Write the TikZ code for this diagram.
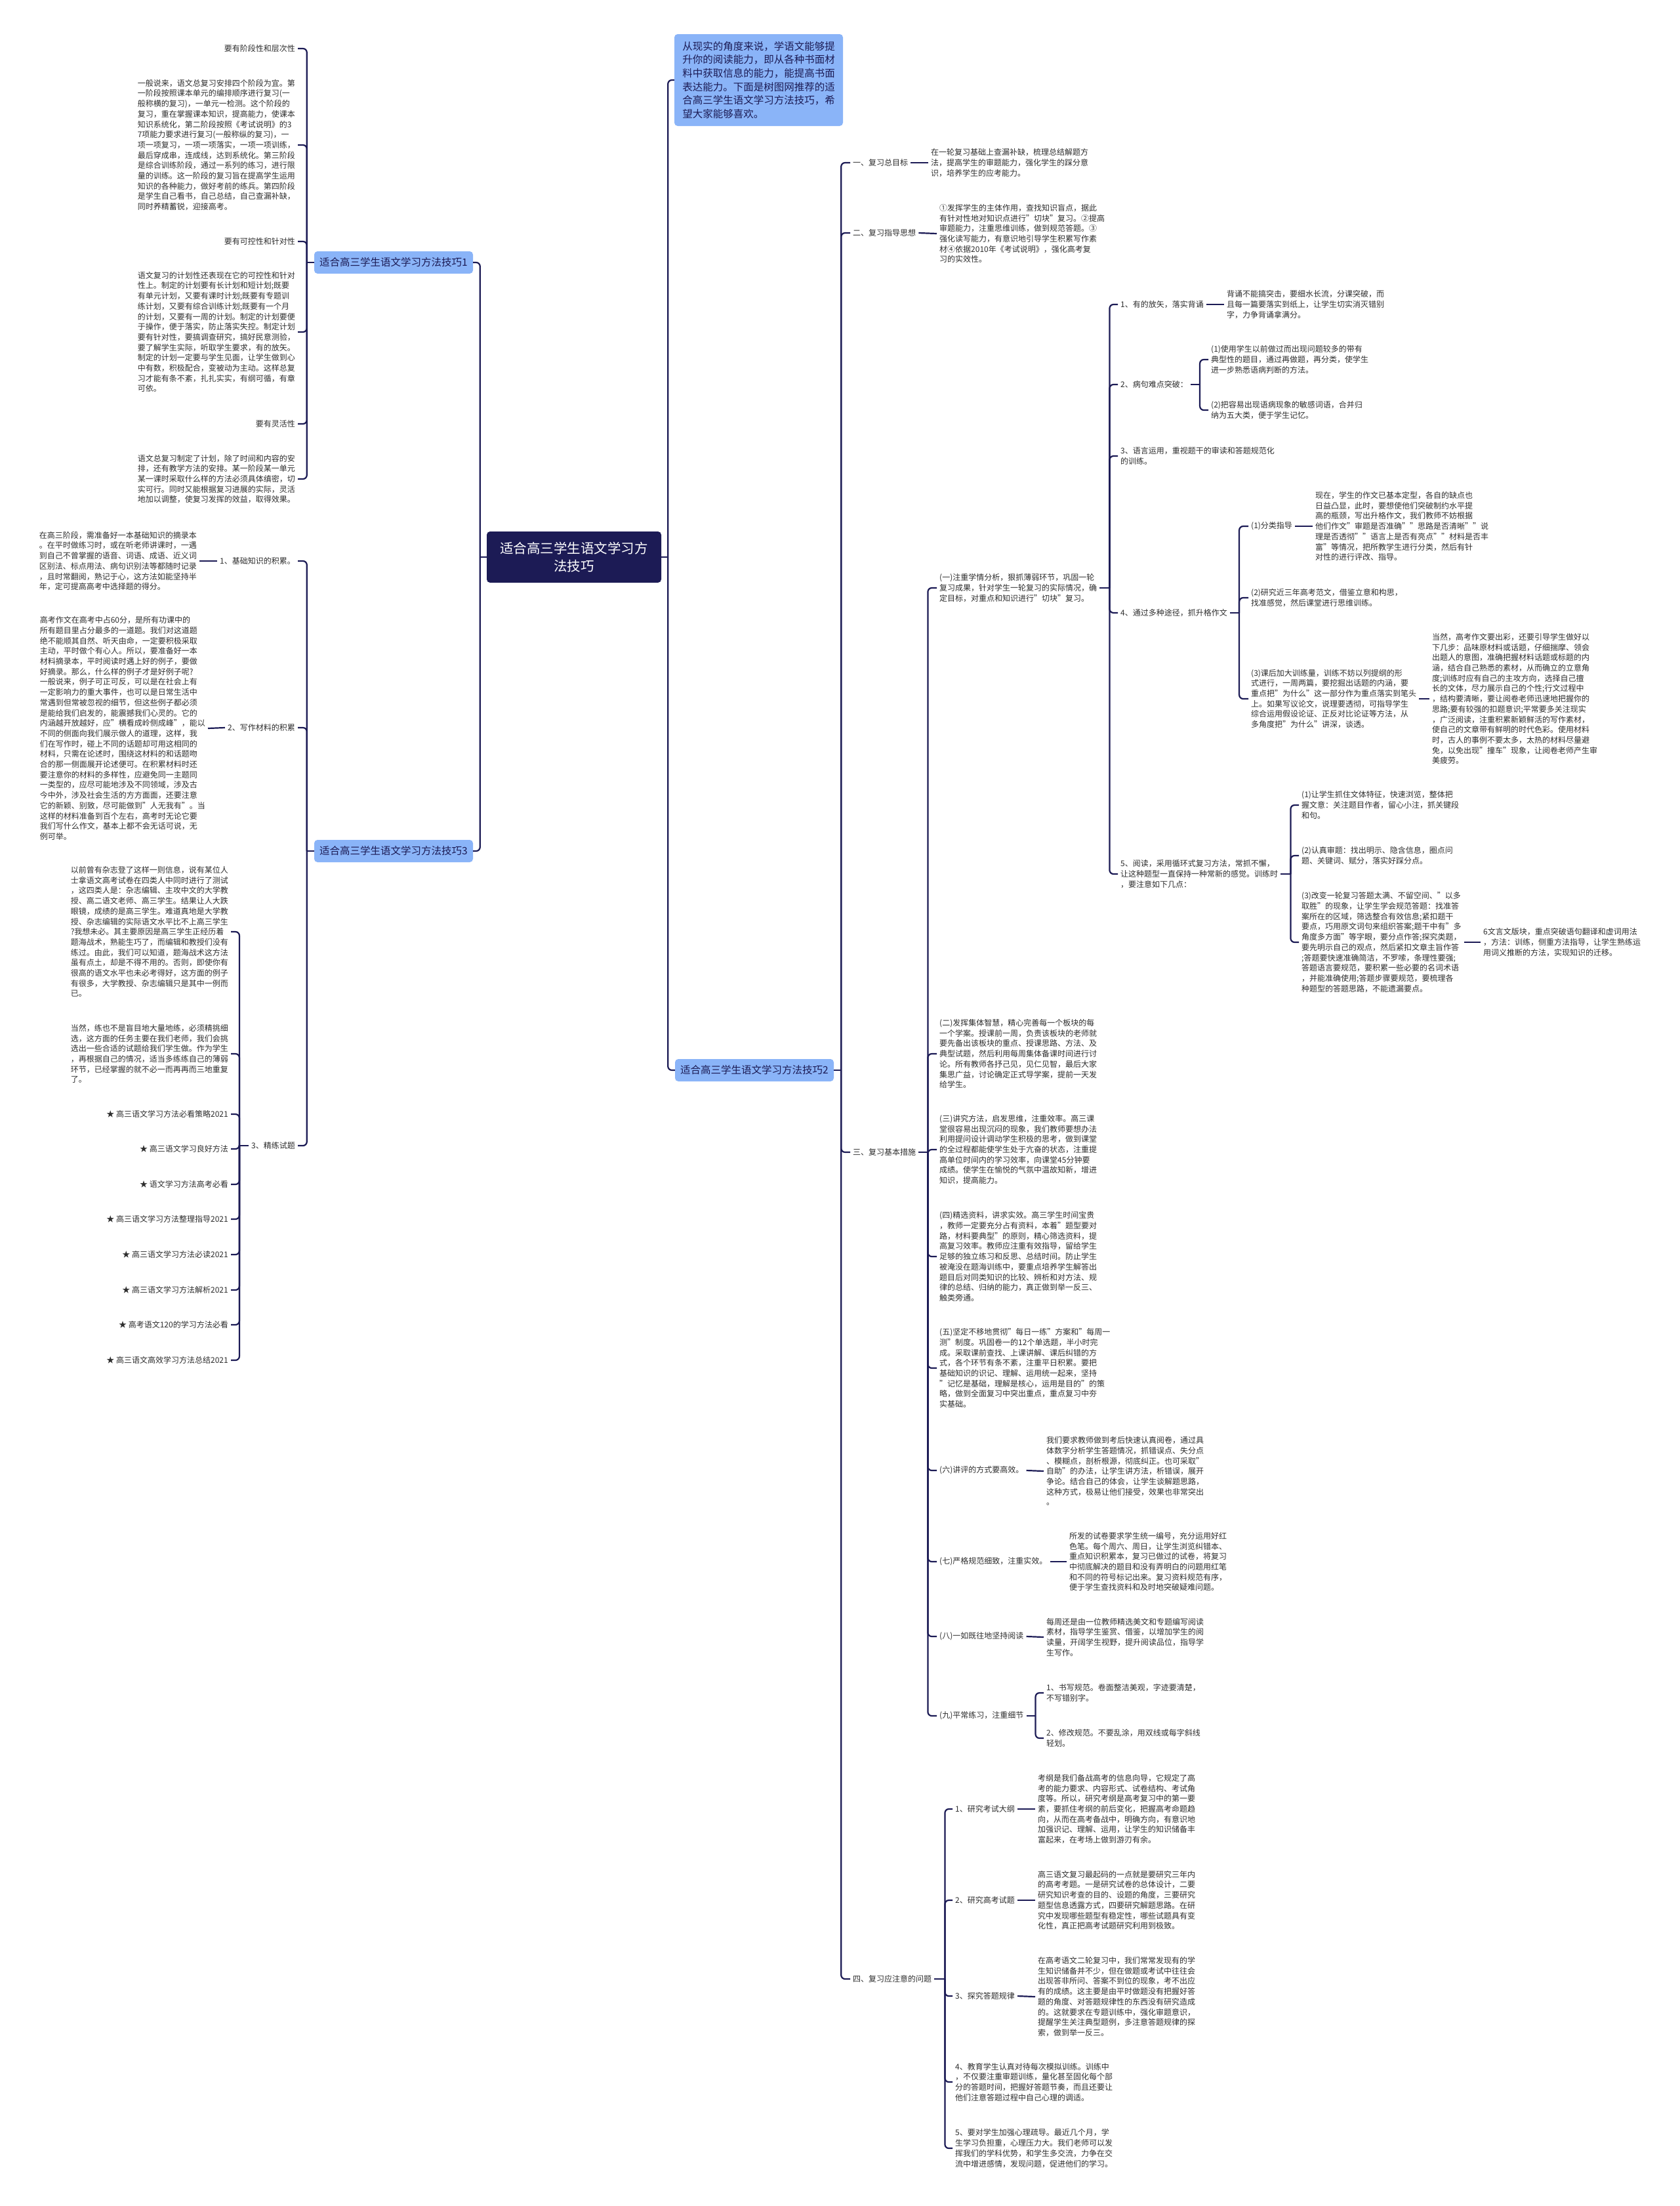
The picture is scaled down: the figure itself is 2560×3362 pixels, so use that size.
\documentclass[tikz,border=0pt]{standalone}
\usepackage{fontspec}
\setmainfont{Noto Sans CJK SC}
\usetikzlibrary{calc}
\definecolor{navy}{HTML}{1C1B55}
\definecolor{blueone}{HTML}{8AB4F8}
\definecolor{txt}{HTML}{2E2E2E}
\begin{document}
\begin{tikzpicture}[x=1pt,y=-1pt,
  mmconn/.style={draw=navy, line width=2.2pt, rounded corners=6pt},
  mmpara/.style={font=\fontsize{12}{15.7}\selectfont, text=txt, align=left, inner xsep=4pt, inner ysep=1pt},
  mmroot/.style={fill=navy, text=white, rounded corners=5pt, font=\fontsize{20.5}{27}\selectfont, align=center, minimum width=266pt, minimum height=78pt, inner sep=0pt},
  mmbranch/.style={fill=blueone, text=navy, rounded corners=5pt, font=\fontsize{15.5}{18}\selectfont, minimum width=242pt, minimum height=34pt, inner sep=0pt},
  mmintro/.style={fill=blueone, text=navy, rounded corners=5pt, font=\fontsize{15.5}{20.7}\selectfont, align=left, minimum width=257pt, minimum height=140pt, inner sep=0pt}]
\useasboundingbox (0,0) rectangle (2560,3362);
\fill[white] (0,0) rectangle (2560,3362);

% ---------- main nodes ----------
\node[mmroot] (R) at (875,849) {适合高三学生语文学习方\\法技巧};
\node[mmintro] (I) at (1156.5,122) {从现实的角度来说，学语文能够提\\升你的阅读能力，即从各种书面材\\料中获取信息的能力，能提高书面\\表达能力。下面是树图网推荐的适\\合高三学生语文学习方法技巧，希\\望大家能够喜欢。};
\node[mmbranch] (B1) at (600,400) {适合高三学生语文学习方法技巧1};
\node[mmbranch] (B3) at (600,1297) {适合高三学生语文学习方法技巧3};
\node[mmbranch] (B2) at (1150,1631) {适合高三学生语文学习方法技巧2};

% ---------- branch 1 ----------
\node[mmpara,anchor=east] (L1a) at (454,74) {要有阶段性和层次性};
\node[mmpara,anchor=east] (L1b) at (454,221) {一般说来，语文总复习安排四个阶段为宜。第\\一阶段按照课本单元的编排顺序进行复习(一\\般称横的复习)，一单元一检测。这个阶段的\\复习，重在掌握课本知识，提高能力，使课本\\知识系统化，第二阶段按照《考试说明》的3\\7项能力要求进行复习(一般称纵的复习)，一\\项一项复习，一项一项落实，一项一项训练，\\最后穿成串，连成线，达到系统化。第三阶段\\是综合训练阶段，通过一系列的练习，进行限\\量的训练。这一阶段的复习旨在提高学生运用\\知识的各种能力，做好考前的练兵。第四阶段\\是学生自己看书，自己总结，自己查漏补缺，\\同时养精蓄锐，迎接高考。};
\node[mmpara,anchor=east] (L1c) at (454,368) {要有可控性和针对性};
\node[mmpara,anchor=east] (L1d) at (454,506) {语文复习的计划性还表现在它的可控性和针对\\性上。制定的计划要有长计划和短计划;既要\\有单元计划，又要有课时计划;既要有专题训\\练计划，又要有综合训练计划;既要有一个月\\的计划，又要有一周的计划。制定的计划要便\\于操作，便于落实，防止落实失控。制定计划\\要有针对性，要搞调查研究，搞好民意测验，\\要了解学生实际，听取学生要求，有的放矢。\\制定的计划一定要与学生见面，让学生做到心\\中有数，积极配合，变被动为主动。这样总复\\习才能有条不紊，扎扎实实，有纲可循，有章\\可依。};
\node[mmpara,anchor=east] (L1e) at (454,646) {要有灵活性};
\node[mmpara,anchor=east] (L1f) at (454,730) {语文总复习制定了计划，除了时间和内容的安\\排，还有教学方法的安排。某一阶段某一单元\\某一课时采取什么样的方法必须具体缜密，切\\实可行。同时又能根据复习进展的实际，灵活\\地加以调整，使复习发挥的效益，取得效果。};

% ---------- branch 3 ----------
\node[mmpara,anchor=east] (L3a) at (454,855) {1、基础知识的积累。};
\node[mmpara,anchor=east] (P3a) at (304,855) {在高三阶段，需准备好一本基础知识的摘录本\\。在平时做练习时，或在听老师讲课时，一遇\\到自己不曾掌握的语音、词语、成语、近义词\\区别法、标点用法、病句识别法等都随时记录\\，且时常翻阅，熟记于心，这方法如能坚持半\\年，定可提高高考中选择题的得分。};
\node[mmpara,anchor=east] (L3b) at (454,1109) {2、写作材料的积累};
\node[mmpara,anchor=east] (P3b) at (317,1110) {高考作文在高考中占60分，是所有功课中的\\所有题目里占分最多的一道题。我们对这道题\\绝不能顺其自然、听天由命，一定要积极采取\\主动，平时做个有心人。所以，要准备好一本\\材料摘录本，平时阅读时遇上好的例子，要做\\好摘录。那么，什么样的例子才是好例子呢?\\一般说来，例子可正可反，可以是在社会上有\\一定影响力的重大事件，也可以是日常生活中\\常遇到但常被忽视的细节，但这些例子都必须\\是能给我们启发的，能震撼我们心灵的。它的\\内涵越开放越好，应"横看成岭侧成峰"，能以\\不同的侧面向我们展示做人的道理，这样，我\\们在写作时，碰上不同的话题却可用这相同的\\材料，只需在论述时，围绕这材料的和话题吻\\合的那一侧面展开论述便可。在积累材料时还\\要注意你的材料的多样性，应避免同一主题同\\一类型的，应尽可能地涉及不同领域，涉及古\\今中外，涉及社会生活的方方面面，还要注意\\它的新颖、别致，尽可能做到"人无我有"。当\\这样的材料准备到百个左右，高考时无论它要\\我们写什么作文，基本上都不会无话可说，无\\例可举。};
\node[mmpara,anchor=east] (L3c) at (454,1746) {3、精练试题};
\node[mmpara,anchor=east] (S1) at (352,1420) {以前曾有杂志登了这样一则信息，说有某位人\\士拿语文高考试卷在四类人中同时进行了测试\\，这四类人是：杂志编辑、主攻中文的大学教\\授、高二语文老师、高三学生。结果让人大跌\\眼镜，成绩的是高三学生。难道真地是大学教\\授、杂志编辑的实际语文水平比不上高三学生\\?我想未必。其主要原因是高三学生正经历着\\题海战术，熟能生巧了，而编辑和教授们没有\\练过。由此，我们可以知道，题海战术这方法\\虽有点土，却是不得不用的。否则，即使你有\\很高的语文水平也未必考得好，这方面的例子\\有很多，大学教授、杂志编辑只是其中一例而\\已。};
\node[mmpara,anchor=east] (S2) at (352,1606) {当然，练也不是盲目地大量地练，必须精挑细\\选，这方面的任务主要在我们老师，我们会挑\\选出一些合适的试题给我们学生做。作为学生\\，再根据自己的情况，适当多练练自己的薄弱\\环节，已经掌握的就不必一而再再而三地重复\\了。};
\node[mmpara,anchor=east] (S3) at (352,1698) {★ 高三语文学习方法必看策略2021};
\node[mmpara,anchor=east] (S4) at (352,1751) {★ 高三语文学习良好方法};
\node[mmpara,anchor=east] (S5) at (352,1805) {★ 语文学习方法高考必看};
\node[mmpara,anchor=east] (S6) at (352,1858) {★ 高三语文学习方法整理指导2021};
\node[mmpara,anchor=east] (S7) at (352,1912) {★ 高三语文学习方法必读2021};
\node[mmpara,anchor=east] (S8) at (352,1966) {★ 高三语文学习方法解析2021};
\node[mmpara,anchor=east] (S9) at (352,2019) {★ 高考语文120的学习方法必看};
\node[mmpara,anchor=east] (S10) at (352,2073) {★ 高三语文高效学习方法总结2021};

% ---------- branch 2 ----------
\node[mmpara,anchor=west] (N1) at (1296,248) {一、复习总目标};
\node[mmpara,anchor=west] (P1) at (1415,248) {在一轮复习基础上查漏补缺，梳理总结解题方\\法，提高学生的审题能力，强化学生的踩分意\\识，培养学生的应考能力。};
\node[mmpara,anchor=west] (N2) at (1296,355) {二、复习指导思想};
\node[mmpara,anchor=west] (P2) at (1428,356) {①发挥学生的主体作用，查找知识盲点，据此\\有针对性地对知识点进行"切块"复习。②提高\\审题能力，注重思维训练，做到规范答题。③\\强化读写能力，有意识地引导学生积累写作素\\材④依据2010年《考试说明》，强化高考复\\习的实效性。};
\node[mmpara,anchor=west] (N3) at (1296,1756) {三、复习基本措施};
\node[mmpara,anchor=west] (N4) at (1296,3016) {四、复习应注意的问题};

\node[mmpara,anchor=west] (M1) at (1428,896) {(一)注重学情分析，狠抓薄弱环节，巩固一轮\\复习成果，针对学生一轮复习的实际情况，确\\定目标，对重点和知识进行"切块"复习。};
\node[mmpara,anchor=west] (A1) at (1704,464) {1、有的放矢，落实背诵};
\node[mmpara,anchor=west] (A1P) at (1866,464) {背诵不能搞突击，要细水长流，分课突破，而\\且每一篇要落实到纸上，让学生切实消灭错别\\字，力争背诵拿满分。};
\node[mmpara,anchor=west] (A2) at (1704,586) {2、病句难点突破：};
\node[mmpara,anchor=west] (A2a) at (1842,548) {(1)使用学生以前做过而出现问题较多的带有\\典型性的题目，通过再做题，再分类，使学生\\进一步熟悉语病判断的方法。};
\node[mmpara,anchor=west] (A2b) at (1842,625) {(2)把容易出现语病现象的敏感词语，合并归\\纳为五大类，便于学生记忆。};
\node[mmpara,anchor=west] (A3) at (1704,695) {3、语言运用，重视题干的审读和答题规范化\\的训练。};
\node[mmpara,anchor=west] (A4) at (1704,934) {4、通过多种途径，抓升格作文};
\node[mmpara,anchor=west] (A4a) at (1903,802) {(1)分类指导};
\node[mmpara,anchor=west] (A4aP) at (2001,802) {现在，学生的作文已基本定型，各自的缺点也\\日益凸显，此时，要想使他们突破制约水平提\\高的瓶颈，写出升格作文，我们教师不妨根据\\他们作文"审题是否准确""思路是否清晰""说\\理是否透彻""语言上是否有亮点""材料是否丰\\富"等情况，把所教学生进行分类，然后有针\\对性的进行评改、指导。};
\node[mmpara,anchor=west] (A4b) at (1903,911) {(2)研究近三年高考范文，借鉴立意和构思，\\找准感觉，然后课堂进行思维训练。};
\node[mmpara,anchor=west] (A4c) at (1903,1065) {(3)课后加大训练量，训练不妨以列提纲的形\\式进行，一周两篇，要挖掘出话题的内涵，要\\重点把"为什么"这一部分作为重点落实到笔头\\上。如果写议论文，说理要透彻，可指导学生\\综合运用假设论证、正反对比论证等方法，从\\多角度把"为什么"讲深，谈透。};
\node[mmpara,anchor=west] (A4cP) at (2179,1065) {当然，高考作文要出彩，还要引导学生做好以\\下几步：品味原材料或话题，仔细揣摩、领会\\出题人的意图，准确把握材料话题或标题的内\\涵，结合自己熟悉的素材，从而确立的立意角\\度;训练时应有自己的主攻方向，选择自己擅\\长的文体，尽力展示自己的个性;行文过程中\\，结构要清晰，要让阅卷老师迅速地把握你的\\思路;要有较强的扣题意识;平常要多关注现实\\，广泛阅读，注重积累新颖鲜活的写作素材，\\使自己的文章带有鲜明的时代色彩。使用材料\\时，古人的事例不要太多，太热的材料尽量避\\免，以免出现"撞车"现象，让阅卷老师产生审\\美疲劳。};
\node[mmpara,anchor=west] (A5) at (1704,1332) {5、阅读，采用循环式复习方法，常抓不懈，\\让这种题型一直保持一种常新的感觉。训练时\\，要注意如下几点：};
\node[mmpara,anchor=west] (A5a) at (1980,1227) {(1)让学生抓住文体特征，快速浏览，整体把\\握文意：关注题目作者，留心小注，抓关键段\\和句。};
\node[mmpara,anchor=west] (A5b) at (1980,1304) {(2)认真审题：找出明示、隐含信息，圈点问\\题、关键词、赋分，落实好踩分点。};
\node[mmpara,anchor=west] (A5c) at (1980,1436) {(3)改变一轮复习答题太满、不留空间、"以多\\取胜"的现象，让学生学会规范答题：找准答\\案所在的区域，筛选整合有效信息;紧扣题干\\要点，巧用原文词句来组织答案;题干中有"多\\角度多方面"等字眼，要分点作答;探究类题，\\要先明示自己的观点，然后紧扣文章主旨作答\\;答题要快速准确简洁，不罗嗦，条理性要强;\\答题语言要规范，要积累一些必要的名词术语\\，并能准确使用;答题步骤要规范，要梳理各\\种题型的答题思路，不能遗漏要点。};
\node[mmpara,anchor=west] (A5cP) at (2257,1436) {6文言文版块，重点突破语句翻译和虚词用法\\，方法：训练，侧重方法指导，让学生熟练运\\用词义推断的方法，实现知识的迁移。};

\node[mmpara,anchor=west] (M2) at (1428,1606) {(二)发挥集体智慧，精心完善每一个板块的每\\一个学案。授课前一周，负责该板块的老师就\\要先备出该板块的重点、授课思路、方法、及\\典型试题，然后利用每周集体备课时间进行讨\\论。所有教师各抒己见，见仁见智，最后大家\\集思广益，讨论确定正式导学案，提前一天发\\给学生。};
\node[mmpara,anchor=west] (M3) at (1428,1752) {(三)讲究方法，启发思维，注重效率。高三课\\堂很容易出现沉闷的现象，我们教师要想办法\\利用提问设计调动学生积极的思考，做到课堂\\的全过程都能使学生处于亢奋的状态，注重提\\高单位时间内的学习效率，向课堂45分钟要\\成绩。使学生在愉悦的气氛中温故知新，增进\\知识，提高能力。};
\node[mmpara,anchor=west] (M4) at (1428,1915) {(四)精选资料，讲求实效。高三学生时间宝贵\\，教师一定要充分占有资料，本着"题型要对\\路，材料要典型"的原则，精心筛选资料，提\\高复习效率。教师应注重有效指导，留给学生\\足够的独立练习和反思、总结时间。防止学生\\被淹没在题海训练中，要重点培养学生解答出\\题目后对同类知识的比较、辨析和对方法、规\\律的总结、归纳的能力，真正做到举一反三、\\触类旁通。};
\node[mmpara,anchor=west] (M5) at (1428,2085) {(五)坚定不移地贯彻"每日一练"方案和"每周一\\测"制度。巩固卷一的12个单选题，半小时完\\成。采取课前查找、上课讲解、课后纠错的方\\式，各个环节有条不紊，注重平日积累。要把\\基础知识的识记、理解、运用统一起来，坚持\\"记忆是基础，理解是核心，运用是目的"的策\\略，做到全面复习中突出重点，重点复习中夯\\实基础。};
\node[mmpara,anchor=west] (M6) at (1428,2241) {(六)讲评的方式要高效。};
\node[mmpara,anchor=west] (M6P) at (1591,2242) {我们要求教师做到考后快速认真阅卷，通过具\\体数字分析学生答题情况，抓错误点、失分点\\、模糊点，剖析根源，彻底纠正。也可采取"\\自助"的办法，让学生讲方法，析错误，展开\\争论。结合自己的体会，让学生谈解题思路，\\这种方式，极易让他们接受，效果也非常突出\\。};
\node[mmpara,anchor=west] (M7) at (1428,2380) {(七)严格规范细致，注重实效。};
\node[mmpara,anchor=west] (M7P) at (1626,2380) {所发的试卷要求学生统一编号，充分运用好红\\色笔。每个周六、周日，让学生浏览纠错本、\\重点知识积累本，复习已做过的试卷，将复习\\中彻底解决的题目和没有弄明白的问题用红笔\\和不同的符号标记出来。复习资料规范有序，\\便于学生查找资料和及时地突破疑难问题。};
\node[mmpara,anchor=west] (M8) at (1428,2494) {(八)一如既往地坚持阅读};
\node[mmpara,anchor=west] (M8P) at (1591,2495) {每周还是由一位教师精选美文和专题编写阅读\\素材，指导学生鉴赏、借鉴，以增加学生的阅\\读量，开阔学生视野，提升阅读品位，指导学\\生写作。};
\node[mmpara,anchor=west] (M9) at (1428,2615) {(九)平常练习，注重细节};
\node[mmpara,anchor=west] (M9a) at (1591,2580) {1、书写规范。卷面整洁美观，字迹要清楚，\\不写错别字。};
\node[mmpara,anchor=west] (M9b) at (1591,2649) {2、修改规范。不要乱涂，用双线或每字斜线\\轻划。};

\node[mmpara,anchor=west] (Q1) at (1452,2757) {1、研究考试大纲};
\node[mmpara,anchor=west] (Q1P) at (1578,2757) {考纲是我们备战高考的信息向导，它规定了高\\考的能力要求、内容形式、试卷结构、考试角\\度等。所以，研究考纲是高考复习中的第一要\\素，要抓住考纲的前后变化，把握高考命题趋\\向，从而在高考备战中，明确方向，有意识地\\加强识记、理解、运用，让学生的知识储备丰\\富起来，在考场上做到游刃有余。};
\node[mmpara,anchor=west] (Q2) at (1452,2896) {2、研究高考试题};
\node[mmpara,anchor=west] (Q2P) at (1578,2896) {高三语文复习最起码的一点就是要研究三年内\\的高考考题。一是研究试卷的总体设计，二要\\研究知识考查的目的、设题的角度，三要研究\\题型信息透露方式，四要研究解题思路。在研\\究中发现哪些题型有稳定性，哪些试题具有变\\化性，真正把高考试题研究利用到极致。};
\node[mmpara,anchor=west] (Q3) at (1452,3042) {3、探究答题规律};
\node[mmpara,anchor=west] (Q3P) at (1578,3043) {在高考语文二轮复习中，我们常常发现有的学\\生知识储备并不少，但在做题或考试中往往会\\出现答非所问、答案不到位的现象，考不出应\\有的成绩。这主要是由平时做题没有把握好答\\题的角度、对答题规律性的东西没有研究造成\\的。这就要求在专题训练中，强化审题意识，\\提醒学生关注典型题例，多注意答题规律的探\\索，做到举一反三。};
\node[mmpara,anchor=west] (Q4) at (1452,3173) {4、教育学生认真对待每次模拟训练。训练中\\，不仅要注重审题训练，量化甚至固化每个部\\分的答题时间，把握好答题节奏，而且还要让\\他们注意答题过程中自己心理的调适。};
\node[mmpara,anchor=west] (Q5) at (1452,3274) {5、要对学生加强心理疏导。最近几个月，学\\生学习负担重，心理压力大。我们老师可以发\\挥我们的学科优势，和学生多交流，力争在交\\流中增进感情，发现问题，促进他们的学习。};

% ---------- connectors ----------
\draw[mmconn] (R.west) -- ++(-10,0);
\foreach \c in {B1,B3} \draw[mmconn] ($(R.west)+(-10,0)$) |- (\c.east);
\draw[mmconn] (R.east) -- ++(10,0);
\foreach \c in {I,B2} \draw[mmconn] ($(R.east)+(10,0)$) |- (\c.west);

\draw[mmconn] (B1.west) -- ++(-11,0);
\foreach \c in {L1a,L1b,L1c,L1d,L1e,L1f} \draw[mmconn] ($(B1.west)+(-11,0)$) |- (\c.east);

\draw[mmconn] (B3.west) -- ++(-11,0);
\foreach \c in {L3a,L3b,L3c} \draw[mmconn] ($(B3.west)+(-11,0)$) |- (\c.east);
\draw[mmconn] (L3a.west) -- (P3a.east);
\draw[mmconn] (L3b.west) -- (P3b.east);
\draw[mmconn] (L3c.west) -- ++(-14,0);
\foreach \c in {S1,S2,S3,S4,S5,S6,S7,S8,S9,S10} \draw[mmconn] ($(L3c.west)+(-14,0)$) |- (\c.east);

\draw[mmconn] (B2.east) -- ++(11,0);
\foreach \c in {N1,N2,N3,N4} \draw[mmconn] ($(B2.east)+(11,0)$) |- (\c.west);
\draw[mmconn] (N1.east) -- (P1.west);
\draw[mmconn] (N2.east) -- (P2.west);

\draw[mmconn] (N3.east) -- ++(14,0);
\foreach \c in {M1,M2,M3,M4,M5,M6,M7,M8,M9} \draw[mmconn] ($(N3.east)+(14,0)$) |- (\c.west);

\draw[mmconn] (M1.east) -- ++(15,0);
\foreach \c in {A1,A2,A3,A4,A5} \draw[mmconn] ($(M1.east)+(15,0)$) |- (\c.west);
\draw[mmconn] (A1.east) -- (A1P.west);
\draw[mmconn] (A2.east) -- ++(14,0);
\foreach \c in {A2a,A2b} \draw[mmconn] ($(A2.east)+(14,0)$) |- (\c.west);
\draw[mmconn] (A4.east) -- ++(14,0);
\foreach \c in {A4a,A4b,A4c} \draw[mmconn] ($(A4.east)+(14,0)$) |- (\c.west);
\draw[mmconn] (A4a.east) -- (A4aP.west);
\draw[mmconn] (A4c.east) -- (A4cP.west);
\draw[mmconn] (A5.east) -- ++(15,0);
\foreach \c in {A5a,A5b,A5c} \draw[mmconn] ($(A5.east)+(15,0)$) |- (\c.west);
\draw[mmconn] (A5c.east) -- (A5cP.west);

\draw[mmconn] (M6.east) -- (M6P.west);
\draw[mmconn] (M7.east) -- (M7P.west);
\draw[mmconn] (M8.east) -- (M8P.west);
\draw[mmconn] (M9.east) -- ++(14,0);
\foreach \c in {M9a,M9b} \draw[mmconn] ($(M9.east)+(14,0)$) |- (\c.west);

\draw[mmconn] (N4.east) -- ++(16,0);
\foreach \c in {Q1,Q2,Q3,Q4,Q5} \draw[mmconn] ($(N4.east)+(16,0)$) |- (\c.west);
\draw[mmconn] (Q1.east) -- (Q1P.west);
\draw[mmconn] (Q2.east) -- (Q2P.west);
\draw[mmconn] (Q3.east) -- (Q3P.west);
\end{tikzpicture}
\end{document}
